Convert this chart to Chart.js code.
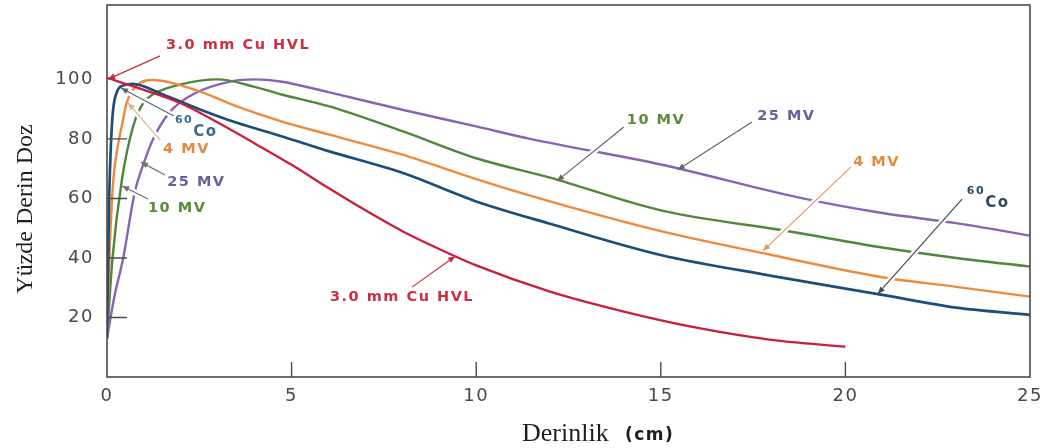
<!DOCTYPE html>
<html lang="tr">
<head>
<meta charset="UTF-8">
<title>Yüzde Derin Doz</title>
<script src="https://cdn.jsdelivr.net/npm/chart.js"></script>
<style>
  body { margin: 0; background: #fff; }
  canvas { display: block; }
</style>
</head>
<body>
<canvas id="pddChart" width="1053" height="448"></canvas>
<script>
// depth (cm) and percent depth dose
const redDepth = [0, 1, 2, 3, 4, 5, 6, 7, 8, 9, 10, 12, 14, 16, 18, 20];
const redPdd   = [100.5, 96.5, 92, 85.5, 78.5, 71.3, 63.5, 56, 49, 43, 37.5, 28.7, 22, 16.5, 12.5, 10.2];

const coDepth = [0, 0.05, 0.13, 0.26, 0.45, 0.7, 1.5, 2.5, 3.5, 4.7, 6, 8, 10, 12, 15, 18, 21, 23, 25];
const coPdd   = [13, 55, 84, 95.5, 98, 98.5, 95, 90, 85.5, 81, 75.9, 68.6, 59, 51.5, 41, 34, 27.6, 23.3, 20.9];

const mv4Depth = [0, 0.08, 0.17, 0.3, 0.4, 0.53, 0.7, 0.9, 1.2, 2.5, 3.5, 4.7, 6, 8, 10, 12, 15, 18, 21, 23, 25];
const mv4Pdd   = [13, 45, 66, 78, 84.3, 92, 96.5, 98.9, 99.8, 96, 91, 86, 81.5, 74.7, 66.5, 59, 49, 41, 33.5, 30.3, 27];

const mv10Depth = [0, 0.15, 0.4, 0.71, 0.98, 1.25, 2, 3, 4, 4.7, 6, 8, 10, 12, 15, 18.5, 21, 23, 25];
const mv10Pdd   = [13, 40, 66, 84.3, 92, 95, 98.3, 100, 97.5, 95, 91, 82.6, 73.5, 67, 56, 48.9, 43.5, 40, 37.1];

const mv25Depth = [0, 0.2, 0.44, 0.75, 1, 1.25, 1.7, 2.33, 3.4, 4, 4.7, 6, 8, 10, 11.46, 15, 18.78, 21, 23, 25];
const mv25Pdd   = [13, 27, 40, 62, 72, 80, 89, 95, 99.4, 100, 99.3, 95.7, 89.8, 84.2, 80, 71.4, 60.2, 55.1, 51.7, 47.5];

const xTicks = [0, 5, 10, 15, 20, 25];
const yTicks = [20, 40, 60, 80, 100];

const toPoints = (xs, ys) => xs.map((x, i) => ({ x: x, y: ys[i] }));

// callout labels: text anchor, pointer start and tip, all in data units
const notes = [
  { text: '3.0 mm Cu HVL', color: '#cc2f42', line: '#c23040', at: [3.55, 111.6], align: 'center', from: [1.44, 107.9], to: [0.03, 100.1] },
  { sup: '60', text: 'Co', color: '#3b6c8e', line: '#5a6470', at: [1.84, 86.4], from: [1.81, 87.7], to: [0.38, 97.1] },
  { text: '4 MV', color: '#e3883f', line: '#d8b48a', at: [1.52, 76.6], from: [1.44, 79.6], to: [0.57, 92.1] },
  { text: '25 MV', color: '#6b5e9c', line: '#707070', at: [1.63, 65.5], from: [1.57, 67.9], to: [0.92, 72.2] },
  { text: '10 MV', color: '#5a8b38', line: '#707070', at: [1.11, 56.8], from: [1.11, 59.8], to: [0.41, 64.2] },
  { text: '10 MV', color: '#5a8b38', line: '#666666', at: [14.08, 86.4], from: [14.0, 84.0], to: [12.19, 65.9] },
  { text: '25 MV', color: '#6b5e9c', line: '#666666', at: [17.61, 87.7], from: [17.47, 85.7], to: [15.46, 69.6] },
  { text: '4 MV', color: '#e3883f', line: '#e39a62', at: [20.21, 72.2], from: [20.15, 70.6], to: [17.77, 42.4] },
  { sup: '60', text: 'Co', color: '#2a4a66', line: '#444c58', at: [23.29, 62.5], from: [23.16, 59.8], to: [20.88, 28.0] },
  { text: '3.0 mm Cu HVL', color: '#cc2f42', line: '#c23040', at: [6.04, 26.9], from: [8.26, 30.2], to: [9.43, 40.6] }
];

function arrow(ctx, x1, y1, x2, y2, color) {
  const dx = x2 - x1, dy = y2 - y1;
  const len = Math.hypot(dx, dy), ux = dx / len, uy = dy / len;
  // pointer breaks the curves it crosses, like the printed figure
  ctx.strokeStyle = '#fff';
  ctx.lineWidth = 6;
  ctx.beginPath();
  ctx.moveTo(x1 + ux * 2, y1 + uy * 2);
  ctx.lineTo(x2 - ux * 9, y2 - uy * 9);
  ctx.stroke();
  ctx.strokeStyle = color;
  ctx.lineWidth = 1.2;
  ctx.beginPath();
  ctx.moveTo(x1, y1);
  ctx.lineTo(x2, y2);
  ctx.stroke();
  ctx.fillStyle = color;
  ctx.beginPath();
  ctx.moveTo(x2, y2);
  ctx.lineTo(x2 - ux * 7 - uy * 3, y2 - uy * 7 + ux * 3);
  ctx.lineTo(x2 - ux * 7 + uy * 3, y2 - uy * 7 - ux * 3);
  ctx.closePath();
  ctx.fill();
}

const decorPlugin = {
  id: 'decor',
  beforeDraw(chart) {
    // wide lettering of the scanned tick labels
    chart.ctx.letterSpacing = '1.5px';
  },
  afterDraw(chart) {
    const ctx = chart.ctx;
    const a = chart.chartArea;
    const xs = chart.scales.x, ys = chart.scales.y;
    ctx.save();
    ctx.letterSpacing = '0px';

    // frame
    ctx.strokeStyle = '#4a4a4a';
    ctx.lineWidth = 1.6;
    ctx.strokeRect(a.left, a.top, a.right - a.left, a.bottom - a.top);

    // inward tick marks
    ctx.lineWidth = 1.4;
    ctx.beginPath();
    xTicks.slice(1, -1).forEach(v => {
      const px = xs.getPixelForValue(v);
      ctx.moveTo(px, a.bottom);
      ctx.lineTo(px, a.bottom - 15);
    });
    yTicks.slice(0, -1).forEach(v => {
      const py = ys.getPixelForValue(v);
      ctx.moveTo(a.left, py);
      ctx.lineTo(a.left + 20, py);
    });
    ctx.stroke();

    // callouts
    notes.forEach(n => {
      arrow(ctx, xs.getPixelForValue(n.from[0]), ys.getPixelForValue(n.from[1]),
        xs.getPixelForValue(n.to[0]), ys.getPixelForValue(n.to[1]), n.line);
    });
    ctx.textBaseline = 'middle';
    notes.forEach(n => {
      const px = xs.getPixelForValue(n.at[0]);
      const py = ys.getPixelForValue(n.at[1]);
      ctx.fillStyle = n.color;
      ctx.letterSpacing = '1.5px';
      if (n.sup) {
        ctx.textAlign = 'left';
        ctx.font = 'bold 11px "DejaVu Sans"';
        ctx.fillText(n.sup, px, py);
        const w = ctx.measureText(n.sup).width;
        ctx.font = 'bold 15px "DejaVu Sans"';
        ctx.fillText(n.text, px + w, py + 12);
      } else {
        ctx.textAlign = n.align || 'left';
        ctx.font = 'bold 14.5px "DejaVu Sans"';
        ctx.fillText(n.text, px, py);
      }
    });

    // axis titles
    ctx.letterSpacing = '0px';
    ctx.fillStyle = '#1e1e1e';
    ctx.textBaseline = 'alphabetic';
    ctx.textAlign = 'left';
    ctx.font = '26px "Liberation Serif"';
    ctx.fillText('Derinlik', 522, 441);
    ctx.letterSpacing = '1.5px';
    ctx.font = 'bold 17px "DejaVu Sans"';
    ctx.fillText('(cm)', 625, 440);

    ctx.letterSpacing = '0px';
    ctx.translate(32, 209);
    ctx.rotate(-Math.PI / 2);
    ctx.textAlign = 'center';
    ctx.font = '24px "Liberation Serif"';
    ctx.fillText('Yüzde Derin Doz', 0, 0);
    ctx.restore();
  }
};

const tickFont = { family: 'DejaVu Sans', size: 18 };

new Chart(document.getElementById('pddChart'), {
  type: 'line',
  data: {
    datasets: [
      { label: '3.0 mm Cu HVL', data: toPoints(redDepth, redPdd), borderColor: '#c8203c', borderWidth: 2.3 },
      { label: '60Co', data: toPoints(coDepth, coPdd), borderColor: '#1d4e7a', borderWidth: 2.7 },
      { label: '4 MV', data: toPoints(mv4Depth, mv4Pdd), borderColor: '#ec8a3e', borderWidth: 2.4 },
      { label: '10 MV', data: toPoints(mv10Depth, mv10Pdd), borderColor: '#4f873c', borderWidth: 2.4 },
      { label: '25 MV', data: toPoints(mv25Depth, mv25Pdd), borderColor: '#8765b3', borderWidth: 2.4 }
    ]
  },
  options: {
    responsive: false,
    animation: false,
    devicePixelRatio: 1,
    datasets: {
      line: { pointRadius: 0, fill: false, cubicInterpolationMode: 'monotone' }
    },
    layout: { padding: { left: 0, right: 23, top: 5, bottom: 0 } },
    scales: {
      x: {
        type: 'linear',
        min: 0,
        max: 25,
        afterFit(scale) { scale.height = 71; scale.paddingLeft = 0; scale.paddingRight = 0; },
        grid: { display: false, drawTicks: false },
        border: { display: false },
        ticks: {
          stepSize: 5,
          padding: 9,
          color: '#484848',
          font: tickFont,
          callback: v => xTicks.includes(v) ? v : null
        }
      },
      y: {
        min: 0,
        max: 125,
        afterFit(scale) { scale.width = 107; scale.paddingTop = 0; scale.paddingBottom = 0; },
        grid: { display: false, drawTicks: false },
        border: { display: false },
        ticks: {
          stepSize: 20,
          padding: 13,
          color: '#484848',
          font: tickFont,
          callback: v => yTicks.includes(v) ? v : null
        }
      }
    },
    plugins: {
      legend: { display: false },
      tooltip: { enabled: false }
    }
  },
  plugins: [decorPlugin]
});
</script>
</body>
</html>
